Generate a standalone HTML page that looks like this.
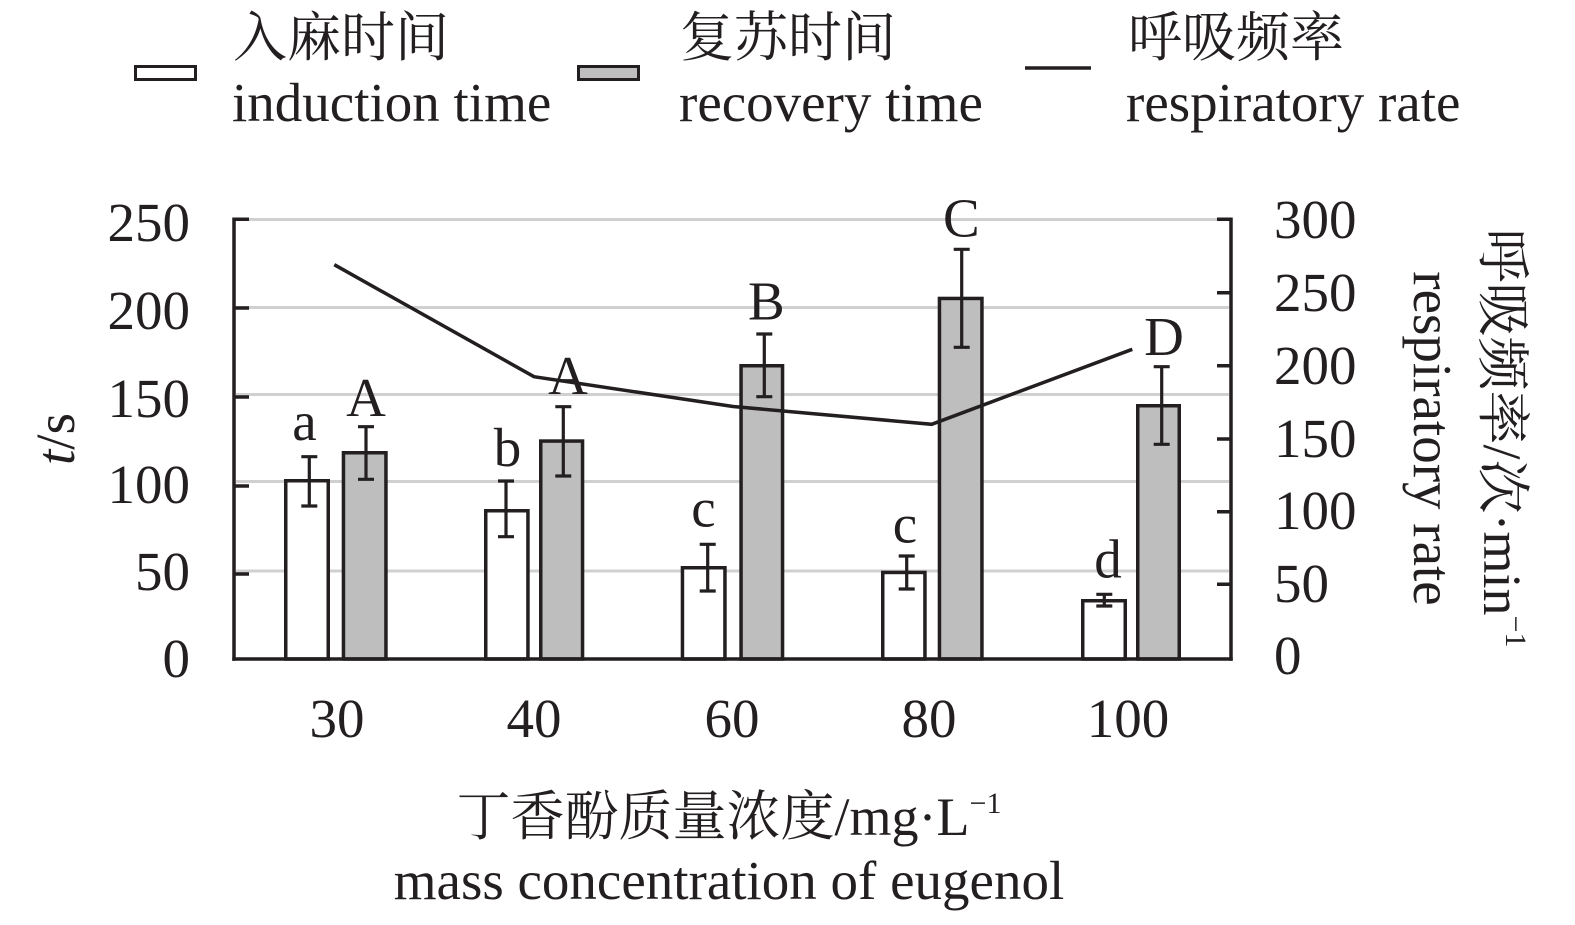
<!DOCTYPE html>
<html>
<head>
<meta charset="utf-8">
<style>
  html, body { margin: 0; padding: 0; background: #ffffff; }
  svg { display: block; }
  text { font-family: "Liberation Serif", "Noto Serif CJK SC", serif; fill: #231f20; }
</style>
</head>
<body>
<svg width="1575" height="925" viewBox="0 0 1575 925" xmlns="http://www.w3.org/2000/svg">
  <rect x="0" y="0" width="1575" height="925" fill="#ffffff"/>

  <!-- Legend -->
  <rect x="135.5" y="66.5" width="60" height="13" fill="#ffffff" stroke="#231f20" stroke-width="3"/>
  <rect x="578.5" y="66.5" width="60" height="13" fill="#bebebe" stroke="#231f20" stroke-width="3"/>
  <line x1="1025" y1="68" x2="1091" y2="68" stroke="#231f20" stroke-width="3.5"/>

  <text x="233" y="56" font-size="54">入麻时间</text>
  <text x="232" y="121" font-size="55">induction time</text>
  <text x="680" y="56" font-size="54">复苏时间</text>
  <text x="679" y="121" font-size="55">recovery time</text>
  <text x="1128" y="56" font-size="54">呼吸频率</text>
  <text x="1126" y="121" font-size="55">respiratory rate</text>

  <!-- Gridlines -->
  <g stroke="#d0d0d0" stroke-width="3">
    <line x1="236" y1="219.5" x2="1229" y2="219.5"/>
    <line x1="236" y1="307.5" x2="1229" y2="307.5"/>
    <line x1="236" y1="394.5" x2="1229" y2="394.5"/>
    <line x1="236" y1="481.5" x2="1229" y2="481.5"/>
    <line x1="236" y1="571" x2="1229" y2="571"/>
  </g>

  <!-- Bars -->
  <g stroke="#231f20" stroke-width="3.5">
    <rect x="285.75" y="480.75" width="42.5" height="178.25" fill="#ffffff"/>
    <rect x="485.75" y="510.75" width="42.2" height="148.25" fill="#ffffff"/>
    <rect x="682.45" y="567.75" width="42.5" height="91.25" fill="#ffffff"/>
    <rect x="882.75" y="572.45" width="42.2" height="86.55" fill="#ffffff"/>
    <rect x="1082.75" y="600.75" width="42.5" height="58.25" fill="#ffffff"/>

    <rect x="343.45" y="452.75" width="42.5" height="206.25" fill="#bebebe"/>
    <rect x="540.75" y="441.05" width="41.8" height="217.95" fill="#bebebe"/>
    <rect x="741.05" y="365.75" width="41.5" height="293.25" fill="#bebebe"/>
    <rect x="939.45" y="298.45" width="42.5" height="360.55" fill="#bebebe"/>
    <rect x="1137.75" y="405.75" width="41.5" height="253.25" fill="#bebebe"/>
  </g>

  <!-- Error bars -->
  <g stroke="#231f20" stroke-width="3.2" fill="none">
    <path d="M309.3 456.7 V506 M301.3 456.7 H317.3 M301.3 506 H317.3"/>
    <path d="M366 426.7 V479.3 M358 426.7 H374 M358 479.3 H374"/>
    <path d="M506 481 V536.7 M498 481 H514 M498 536.7 H514"/>
    <path d="M563.3 406.7 V476 M555.3 406.7 H571.3 M555.3 476 H571.3"/>
    <path d="M707.7 544.3 V591 M699.7 544.3 H715.7 M699.7 591 H715.7"/>
    <path d="M764.3 334 V396.7 M756.3 334 H772.3 M756.3 396.7 H772.3"/>
    <path d="M906.7 556 V589 M898.7 556 H914.7 M898.7 589 H914.7"/>
    <path d="M961.7 249.3 V347.3 M953.7 249.3 H969.7 M953.7 347.3 H969.7"/>
    <path d="M1104.3 594.3 V606 M1096.3 594.3 H1112.3 M1096.3 606 H1112.3"/>
    <path d="M1161.7 366.7 V444.3 M1153.7 366.7 H1169.7 M1153.7 444.3 H1169.7"/>
  </g>

  <!-- Respiratory rate line -->
  <polyline points="334.3,264.7 534,376.7 733,406.5 931.7,424.3 1132.3,349.3" fill="none" stroke="#231f20" stroke-width="3.5" stroke-linejoin="miter"/>

  <!-- Axes -->
  <g stroke="#231f20" stroke-width="3.5" fill="none">
    <path d="M234 217.5 V660.75"/>
    <path d="M1231 217.5 V660.75"/>
    <path d="M232.25 659 H1232.75"/>
    <path d="M234 219.25 H249 M234 308 H249 M234 397 H249 M234 486 H249 M234 574 H249"/>
    <path d="M1217 219.25 H1231 M1217 292.7 H1231 M1217 365.7 H1231 M1217 439 H1231 M1217 511.7 H1231 M1217 584.3 H1231"/>
  </g>

  <!-- Left tick labels -->
  <g font-size="55" text-anchor="end">
    <text x="190" y="241">250</text>
    <text x="190" y="329">200</text>
    <text x="190" y="417">150</text>
    <text x="190" y="503">100</text>
    <text x="190" y="590">50</text>
    <text x="190" y="677">0</text>
  </g>

  <!-- Right tick labels -->
  <g font-size="55" text-anchor="start">
    <text x="1274" y="238">300</text>
    <text x="1274" y="311">250</text>
    <text x="1274" y="384">200</text>
    <text x="1274" y="457">150</text>
    <text x="1274" y="529">100</text>
    <text x="1274" y="602">50</text>
    <text x="1274" y="674">0</text>
  </g>

  <!-- X tick labels -->
  <g font-size="55" text-anchor="middle">
    <text x="337" y="737">30</text>
    <text x="534" y="737">40</text>
    <text x="732" y="737">60</text>
    <text x="929" y="737">80</text>
    <text x="1128" y="737">100</text>
  </g>

  <!-- Significance letters -->
  <g font-size="55" text-anchor="middle">
    <text x="304.5" y="440">a</text>
    <text x="366" y="416">A</text>
    <text x="507.5" y="466">b</text>
    <text x="568" y="394">A</text>
    <text x="703.5" y="526.7">c</text>
    <text x="766.3" y="319.3">B</text>
    <text x="905" y="542.7">c</text>
    <text x="961.3" y="236.7">C</text>
    <text x="1108" y="577.7">d</text>
    <text x="1164" y="355">D</text>
  </g>

  <!-- X axis title -->
  <text x="729" y="835" font-size="54" text-anchor="middle">丁香酚质量浓度/mg·L<tspan font-size="30" dy="-22">−1</tspan></text>
  <text x="729" y="899" font-size="55" text-anchor="middle">mass concentration of eugenol</text>

  <!-- Left Y axis title -->
  <text transform="translate(74,439) rotate(-90)" font-size="55" text-anchor="middle"><tspan font-style="italic">t</tspan>/s</text>

  <!-- Right Y axis titles -->
  <text transform="translate(1484,438) rotate(90)" font-size="54" text-anchor="middle">呼吸频率/次·min<tspan font-size="30" dy="-22">−1</tspan></text>
  <text transform="translate(1414,438.5) rotate(90)" font-size="55" text-anchor="middle">respiratory rate</text>
</svg>
</body>
</html>
